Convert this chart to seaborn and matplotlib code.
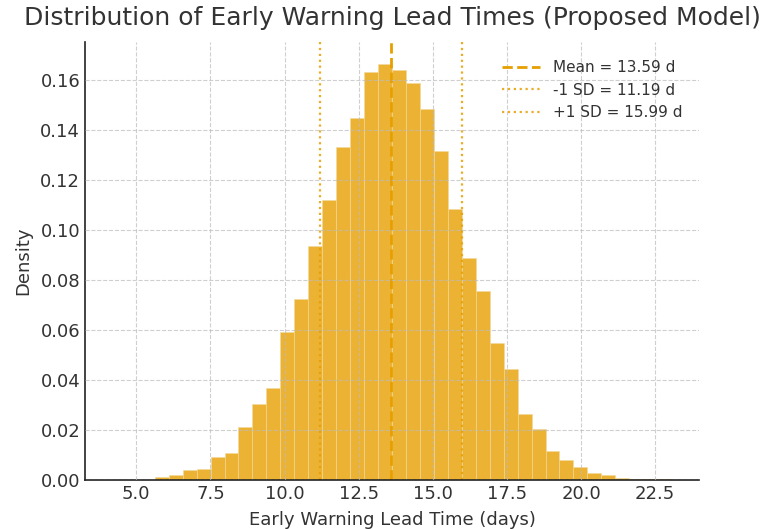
import numpy as np
import pandas as pd
import matplotlib
matplotlib.use("Agg")
import matplotlib.pyplot as plt
import seaborn as sns

# ---- data ----
bin_lo = 4.21
bin_hi = 23.04
n_bins = 40
density = [0.0002, 0.0002, 0.0, 0.0012, 0.0020, 0.0039, 0.0043, 0.0091, 0.0109, 0.0214,
           0.0306, 0.0370, 0.0592, 0.0726, 0.0938, 0.1122, 0.1334, 0.1450, 0.1631, 0.1665,
           0.1639, 0.1587, 0.1485, 0.1318, 0.1084, 0.0890, 0.0755, 0.0548, 0.0444, 0.0266,
           0.0203, 0.0115, 0.0081, 0.0053, 0.0027, 0.0019, 0.0008, 0.0004, 0.0003, 0.0004]
mean_val = 13.59
sd_lo = 11.19
sd_hi = 15.99
x_ticks = [5.0, 7.5, 10.0, 12.5, 15.0, 17.5, 20.0, 22.5]
y_ticks = [0.00, 0.02, 0.04, 0.06, 0.08, 0.10, 0.12, 0.14, 0.16]

edges = np.linspace(bin_lo, bin_hi, n_bins + 1)
centers = (edges[:-1] + edges[1:]) / 2
df = pd.DataFrame({"lead": centers, "density": density})

sns.set_style("white")
plt.rcParams["font.family"] = ["DejaVu Sans"]

fig = plt.figure(figsize=(7.61, 5.29), dpi=100)
ax = fig.add_axes([85 / 761, 1 - 480 / 529, (699 - 85) / 761, (480 - 42) / 529])

col = "#E69F00"
sns.histplot(data=df, x="lead", weights="density", bins=edges.tolist(),
             color=col, alpha=0.8, edgecolor="#f3d9a0", linewidth=0.4, ax=ax)

ax.axvline(mean_val, color=col, linestyle="--", linewidth=2,
           label=f"Mean = {mean_val:.2f} d")
ax.axvline(sd_lo, color=col, linestyle=":", linewidth=1.6, alpha=0.85,
           label=f"-1 SD = {sd_lo:.2f} d")
ax.axvline(sd_hi, color=col, linestyle=":", linewidth=1.6, alpha=0.85,
           label=f"+1 SD = {sd_hi:.2f} d")

ax.set_xlim(3.27, 23.98)
ax.set_ylim(0, 0.1753)
ax.set_xticks(x_ticks)
ax.set_yticks(y_ticks)
ax.set_xticklabels([f"{t:.1f}" for t in x_ticks])
ax.set_yticklabels([f"{t:.2f}" for t in y_ticks])

ax.grid(True, linestyle="--", color="#bbbbbb", linewidth=0.8, alpha=0.7, zorder=3)
ax.set_axisbelow(False)

ax.tick_params(direction="in", length=5, width=1, labelsize=13, colors="#222222",
               labelcolor="#333333")
for s in ["top", "right"]:
    ax.spines[s].set_visible(False)
for s in ["left", "bottom"]:
    ax.spines[s].set_color("#222222")
    ax.spines[s].set_linewidth(1.2)

ax.set_title("Distribution of Early Warning Lead Times (Proposed Model)",
             fontsize=18, color="#333333", pad=12)
ax.set_xlabel("Early Warning Lead Time (days)", fontsize=13, color="#333333", labelpad=6)
ax.set_ylabel("Density", fontsize=13, color="#333333", labelpad=6)

leg = ax.legend(loc="upper right", frameon=False, fontsize=11, handlelength=2.5,
                bbox_to_anchor=(0.995, 0.99))
for t in leg.get_texts():
    t.set_color("#333333")

fig.savefig("out.png", dpi=100)
